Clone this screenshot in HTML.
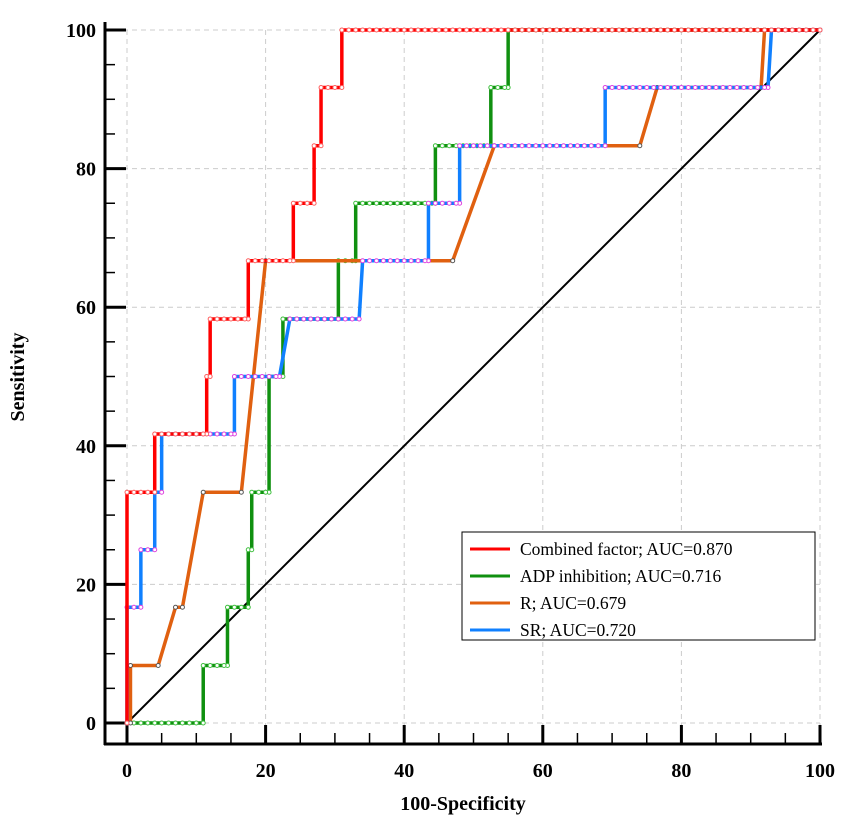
<!DOCTYPE html>
<html><head><meta charset="utf-8"><style>
body{margin:0;background:#fff}
svg text{font-family:"Liberation Serif",serif;font-weight:bold}
</style></head><body>
<svg width="851" height="825" viewBox="0 0 851 825">
<g id="grid"></g>
<g id="axes"></g>
<g id="series"></g>
<g>
<rect x="462" y="532" width="353" height="108" fill="#fff" stroke="#000" stroke-width="1"/>
<g font-size="17.5">
<line x1="470" y1="549" x2="510" y2="549" stroke="#ff0000" stroke-width="3"/>
<text x="520" y="555" style="font-weight:normal">Combined factor; AUC=0.870</text>
<line x1="470" y1="576" x2="510" y2="576" stroke="#109010" stroke-width="3"/>
<text x="520" y="582" style="font-weight:normal">ADP inhibition; AUC=0.716</text>
<line x1="470" y1="603" x2="510" y2="603" stroke="#e06010" stroke-width="3"/>
<text x="520" y="609" style="font-weight:normal">R; AUC=0.679</text>
<line x1="470" y1="630" x2="510" y2="630" stroke="#1080ff" stroke-width="3"/>
<text x="520" y="636" style="font-weight:normal">SR; AUC=0.720</text>
</g></g>
<text x="463" y="810" font-size="20" text-anchor="middle">100-Specificity</text>
<text transform="translate(24,377) rotate(-90)" font-size="20" text-anchor="middle">Sensitivity</text>
</svg>
<script>
const combinedX=[0,0,4,4,11.5,11.5,12,12,17.5,17.5,24,24,27,27,28,28,31,31,100];
const combinedY=[0,33.3,33.3,41.7,41.7,50,50,58.3,58.3,66.7,66.7,75,75,83.3,83.3,91.7,91.7,100,100];
const adpX=[0,11,11,14.5,14.5,17.5,17.5,18,18,20.5,20.5,22.5,22.5,30.5,30.5,33,33,44.5,44.5,52.5,52.5,55,55,100];
const adpY=[0,0,8.3,8.3,16.7,16.7,25,25,33.3,33.3,50,50,58.3,58.3,66.7,66.7,75,75,83.3,83.3,91.7,91.7,100,100];
const rX=[0,0.5,0.5,4.5,7,8,11,16.5,20,47,53,74,76.5,91.5,92,100];
const rY=[0,0,8.3,8.3,16.7,16.7,33.3,33.3,66.7,66.7,83.3,83.3,91.7,91.7,100,100];
const srX=[0,0,2,2,4,4,5,5,15.5,15.5,22,23.5,33.5,34,43.5,43.5,48,48,69,69,92.5,93,100];
const srY=[0,16.7,16.7,25,25,33.3,33.3,41.7,41.7,50,50,58.3,58.3,66.7,66.7,75,75,83.3,83.3,91.7,91.7,100,100];
const ticks=[0,20,40,60,80,100];
const NS="http://www.w3.org/2000/svg";
const X0=127,X1=820,Y0=723,Y1=30;
const sx=v=>X0+(X1-X0)*v/100, sy=v=>Y0-(Y0-Y1)*v/100;
function mk(tag,attrs,parent){const e=document.createElementNS(NS,tag);for(const k in attrs)e.setAttribute(k,attrs[k]);parent.appendChild(e);return e;}
const grid=document.getElementById('grid'),axes=document.getElementById('axes'),ser=document.getElementById('series');
ticks.forEach(t=>{
 const a=mk('line',{x1:sx(t),x2:sx(t),y1:Y1,y2:744,stroke:'#ccc','stroke-dasharray':'5,4'},grid);
 
 
 const b=mk('line',{x1:105,x2:X1,y1:sy(t),y2:sy(t),stroke:'#ccc','stroke-dasharray':'5,4'},grid);
 
 
});
mk('line',{x1:105,x2:105,y1:22,y2:745,stroke:'#000','stroke-width':3},axes);
mk('line',{x1:104,x2:822,y1:744,y2:744,stroke:'#000','stroke-width':3},axes);
for(let t=0;t<=100;t+=5){
 const maj=t%20===0;
 mk('line',{x1:sx(t),x2:sx(t),y1:maj?725:733,y2:744,stroke:'#000','stroke-width':maj?3:1.5},axes);
 mk('line',{x1:105,x2:maj?126:115,y1:sy(t),y2:sy(t),stroke:'#000','stroke-width':maj?3:1.5},axes);
}
ticks.forEach(t=>{
 const a=mk('text',{x:sx(t),y:777,'font-size':20,'text-anchor':'middle'},axes);a.textContent=t;
 
 
 const b=mk('text',{x:96,y:sy(t)+7,'font-size':20,'text-anchor':'end'},axes);b.textContent=t;
 
 
});
const diag=mk('line',{x1:sx(0),y1:sy(0),x2:sx(100),y2:sy(100),stroke:'#000','stroke-width':2},ser);


function draw(xs,ys,color,mc,name,dense){
 const p=mk('polyline',{points:xs.map((x,i)=>sx(x)+','+sy(ys[i])).join(' '),fill:'none',stroke:color,'stroke-width':3.5},ser);
 
 
 xs.forEach((x,i)=>{
  const pts=[[x,ys[i]]];
  if(i>0&&ys[i]===ys[i-1]&&x-xs[i-1]>1){
   const lim=Math.min(x,dense);
   for(let v=xs[i-1]+1;v<lim;v+=1)pts.push([v,ys[i]]);
  }
  pts.forEach(q=>{
   const c=mk('circle',{cx:sx(q[0]),cy:sy(q[1]),r:2,fill:'#fff',stroke:mc,'stroke-width':1},ser);
   
   
  });
 });
}
draw(adpX,adpY,'#109010','#40c040','adp-curve',100);
draw(rX,rY,'#e06010','#555','r-curve',0);
draw(srX,srY,'#1080ff','#e040e0','sr-curve',100);
draw(combinedX,combinedY,'#ff0000','#ff6060','combined-curve',100);
</script>
</body></html>
